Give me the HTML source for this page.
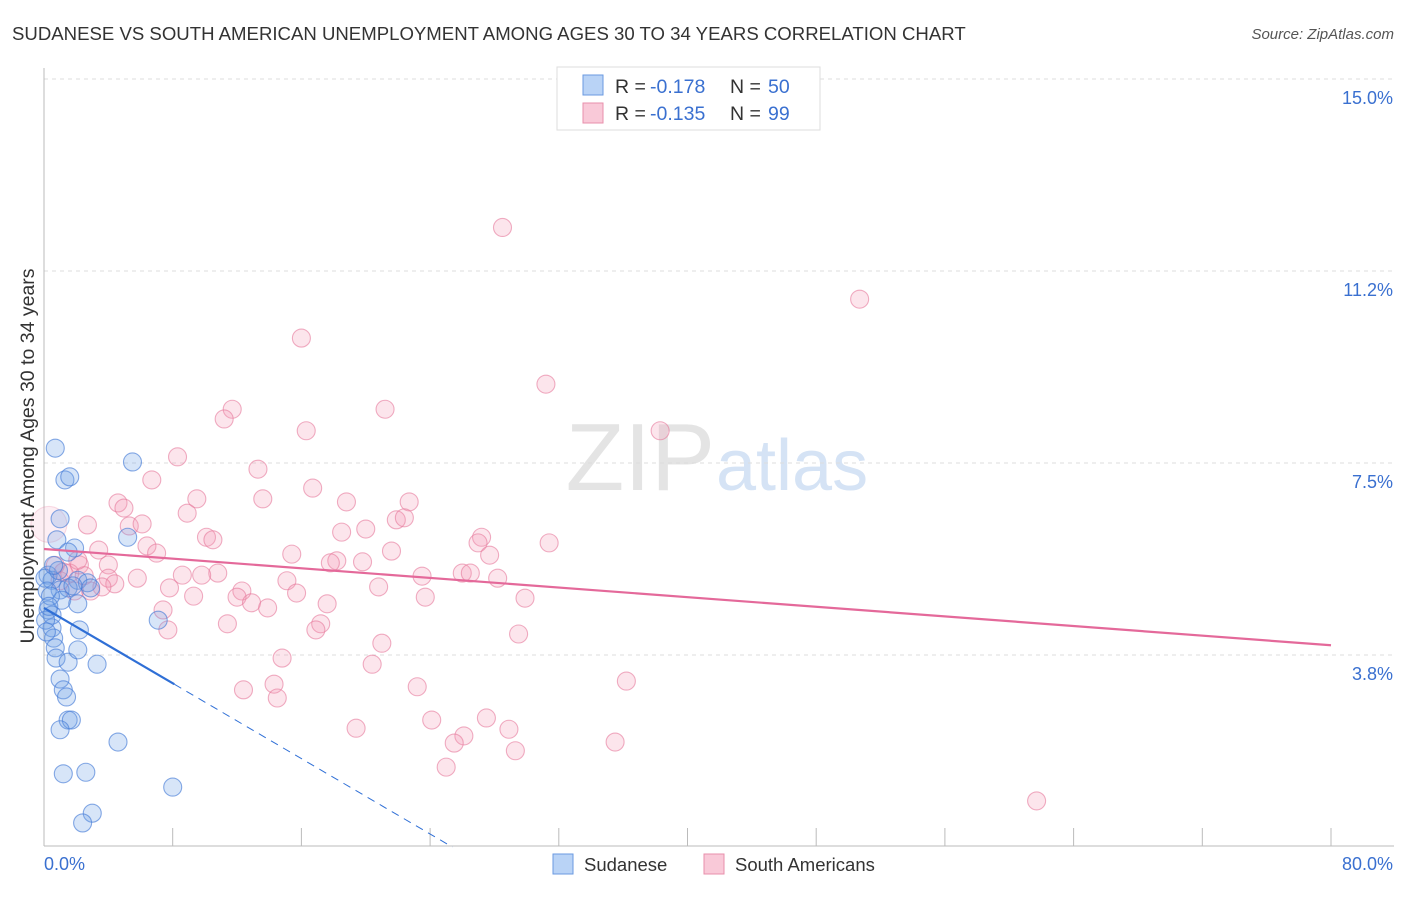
<!DOCTYPE html>
<html><head><meta charset="utf-8"><style>
body{margin:0;background:#fff;font-family:"Liberation Sans",sans-serif;}
svg text{font-family:"Liberation Sans",sans-serif;}
</style></head><body>
<svg id="chart" width="1406" height="892">
<text x="12" y="40" font-size="18.6" fill="#333">SUDANESE VS SOUTH AMERICAN UNEMPLOYMENT AMONG AGES 30 TO 34 YEARS CORRELATION CHART</text>
<text x="1394" y="39" font-size="15" fill="#555" font-style="italic" text-anchor="end">Source: ZipAtlas.com</text>
<text x="715" y="490" font-size="96" fill="#e4e4e4" text-anchor="end" font-family="Liberation Serif">ZIP</text>
<text x="716" y="490" font-size="72" fill="#d5e3f5">atlas</text>
<g id="grid"></g><g id="axes"></g><g id="pts"></g><g id="trend"></g>
<text x="34" y="456" font-size="19.5" fill="#333" text-anchor="middle" transform="rotate(-90 34 456)">Unemployment Among Ages 30 to 34 years</text>
<text x="44" y="870" font-size="18" fill="#3a70d0">0.0%</text>
<text x="1393" y="870" font-size="18" fill="#3a70d0" text-anchor="end">80.0%</text>
<g>
<rect x="557" y="67" width="263" height="63" fill="#fff" stroke="#ddd"/>
<rect x="583" y="75" width="20" height="20" fill="#b9d3f6" stroke="#6a9ae0"/>
<rect x="583" y="103" width="20" height="20" fill="#f9c9d8" stroke="#e88fab"/>
<text x="615" y="93" font-size="19.5" fill="#333">R =</text><text x="650" y="93" font-size="19.5" fill="#3a70d0">-0.178</text>
<text x="730" y="93" font-size="19.5" fill="#333">N =</text><text x="768" y="93" font-size="19.5" fill="#3a70d0">50</text>
<text x="615" y="120" font-size="19.5" fill="#333">R =</text><text x="650" y="120" font-size="19.5" fill="#3a70d0">-0.135</text>
<text x="730" y="120" font-size="19.5" fill="#333">N =</text><text x="768" y="120" font-size="19.5" fill="#3a70d0">99</text>
</g>
<g><rect x="553" y="854" width="20" height="20" fill="#b9d3f6" stroke="#6a9ae0"/><text x="584" y="871" font-size="18.5" fill="#333">Sudanese</text></g>
<g><rect x="704" y="854" width="20" height="20" fill="#f9c9d8" stroke="#e88fab"/><text x="735" y="871" font-size="18.5" fill="#333">South Americans</text></g>
</svg>
<script>
const yTicks=[3.75,7.5,11.25,15];
const yTickLabels=["3.8%","7.5%","11.2%","15.0%"];
const xTicks=[0,8,16,24,32,40,48,56,64,72,80];
const sudX=[0.7,5.5,1.3,1.6,1.0,5.2,0.8,1.9,1.5,0.25,0.5,2.1,2.7,1.0,1.5,2.9,1.1,2.1,0.25,0.5,7.1,0.5,2.2,0.6,0.7,0.75,1.5,3.3,2.1,1.0,1.2,1.4,1.5,1.7,1.0,4.6,1.2,2.6,8.0,3.0,2.4,0.06,0.2,0.1,0.4,0.9,1.8,0.3,0.6,0.15];
const sudY=[7.79,7.52,7.17,7.23,6.41,6.05,6.0,5.84,5.76,5.31,5.21,5.21,5.16,5.02,5.06,5.06,4.82,4.75,4.63,4.53,4.43,4.28,4.24,4.08,3.89,3.69,3.61,3.57,3.85,3.28,3.07,2.93,2.48,2.48,2.29,2.05,1.43,1.46,1.17,0.66,0.47,5.25,5.0,4.43,4.9,5.4,5.1,4.7,5.5,4.2];
const saX=[28.5,50.7,16.0,31.2,11.7,11.2,21.2,16.3,38.3,8.3,13.3,6.7,16.7,9.5,13.6,18.8,22.7,4.6,4.97,8.9,2.7,5.3,6.1,21.9,22.4,20.0,18.5,10.1,10.5,27.2,26.98,31.4,6.4,7.0,3.4,21.6,15.4,27.7,18.2,17.8,19.8,2.2,4.0,1.2,10.8,8.6,9.8,23.5,26.0,26.5,28.2,5.8,4.0,4.4,15.1,20.8,7.8,12.3,3.6,15.7,9.3,23.7,12.0,29.9,12.9,17.6,13.9,7.4,11.4,17.2,7.7,16.9,29.5,21.0,14.8,20.4,36.2,14.3,12.4,23.2,14.5,27.5,24.1,19.4,28.9,26.1,25.5,35.5,29.3,25.0,61.7,0.7,1.0,1.6,1.9,2.5,2.9,2.1,0.3];
const saY=[12.1,10.7,9.94,9.04,8.55,8.36,8.55,8.13,8.13,7.62,7.38,7.17,7.01,6.80,6.80,6.74,6.74,6.72,6.62,6.52,6.29,6.27,6.31,6.39,6.43,6.21,6.15,6.05,6.0,6.05,5.94,5.94,5.88,5.74,5.80,5.78,5.72,5.70,5.59,5.55,5.57,5.51,5.51,5.37,5.35,5.31,5.31,5.29,5.35,5.35,5.25,5.25,5.25,5.14,5.20,5.08,5.06,5.00,5.08,4.96,4.90,4.88,4.88,4.86,4.77,4.75,4.67,4.63,4.36,4.36,4.24,4.24,4.16,3.98,3.69,3.57,3.24,3.18,3.07,3.13,2.91,2.52,2.48,2.32,2.30,2.17,2.03,2.05,1.88,1.56,0.90,5.5,5.2,5.35,5.0,5.3,5.0,5.6,6.3];
const sudTrend=[4.67,-0.184];
const saTrend=[5.82,-0.0235];
const X=v=>44+v*16.0875, Y=v=>847-v*51.2;
const NS="http://www.w3.org/2000/svg";
function mk(parent,tag,attrs){const e=document.createElementNS(NS,tag);for(const k in attrs)e.setAttribute(k,attrs[k]);document.getElementById(parent).appendChild(e);return e;}
yTicks.forEach((t,i)=>{
  const l=mk('grid','line',{x1:44,x2:1394,y1:Y(t),y2:Y(t),stroke:'#ddd','stroke-dasharray':'4,4'});
  
  
  const tx=mk('grid','text',{x:1393,y:Y(t)+25,'font-size':18,fill:'#3a70d0','text-anchor':'end'});
  tx.textContent=yTickLabels[i];
  
  
});
const ax=mk('axes','line',{x1:44,x2:44,y1:68,y2:846,stroke:'#bbb'});


const bx=mk('axes','line',{x1:44,x2:1394,y1:846,y2:846,stroke:'#bbb'});


xTicks.forEach(t=>{
  const l=mk('axes','line',{x1:X(t),x2:X(t),y1:828,y2:846,stroke:'#bbb'});
  
  
});
saX.forEach((x,i)=>{
  const big=i===saX.length-1;
  const c=mk('pts','circle',{cx:X(x),cy:Y(saY[i]),r:big?18:9,fill:big?'rgba(242,150,180,0.15)':'rgba(242,150,180,0.25)',stroke:big?'rgba(230,120,155,0.25)':'rgba(230,120,155,0.6)','stroke-width':1.1});
  
  
});
sudX.forEach((x,i)=>{
  const c=mk('pts','circle',{cx:X(x),cy:Y(sudY[i]),r:9,fill:'rgba(110,160,230,0.28)',stroke:'rgba(70,125,215,0.65)','stroke-width':1.1});
  
  
});
const s1=mk('trend','line',{x1:X(0),y1:Y(saTrend[0]),x2:X(80),y2:Y(saTrend[0]+80*saTrend[1]),stroke:'#e4699a','stroke-width':2.2});


const xe=8.1, x0=-sudTrend[0]/sudTrend[1];
const s2=mk('trend','line',{x1:X(0),y1:Y(sudTrend[0]),x2:X(xe),y2:Y(sudTrend[0]+xe*sudTrend[1]),stroke:'#2f6fd6','stroke-width':2.2});


const s3=mk('trend','line',{x1:X(xe),y1:Y(sudTrend[0]+xe*sudTrend[1]),x2:X(x0),y2:Y(0),stroke:'#2f6fd6','stroke-width':1,'stroke-dasharray':'8,6'});


</script>
</body></html>
